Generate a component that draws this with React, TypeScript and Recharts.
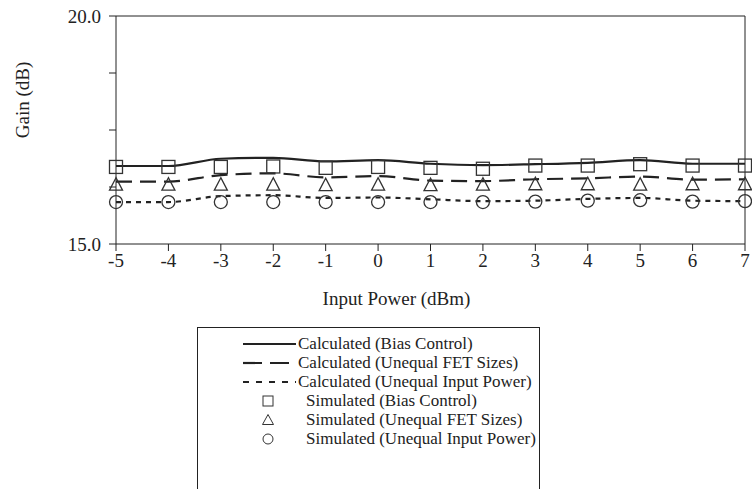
import { LineChart, Line, XAxis, YAxis, ReferenceLine, Legend } from "recharts"

// x values (input power, dBm)
const inputPower = [-5, -4, -3, -2, -1, 0, 1, 2, 3, 4, 5, 6, 7]

// calculated curves
const calcBias = [16.71, 16.71, 16.87, 16.89, 16.81, 16.84, 16.76, 16.73, 16.75, 16.78, 16.84, 16.76, 16.76]
const calcFet = [16.37, 16.37, 16.51, 16.55, 16.46, 16.49, 16.39, 16.38, 16.42, 16.44, 16.48, 16.41, 16.42]
const calcInput = [15.92, 15.92, 16.05, 16.07, 16.01, 16.02, 15.98, 15.94, 15.95, 15.99, 16.01, 15.95, 15.94]

// simulated points
const simBias = [16.69, 16.69, 16.69, 16.7, 16.67, 16.69, 16.67, 16.65, 16.72, 16.72, 16.75, 16.72, 16.72]
const simFet = [16.3, 16.3, 16.3, 16.3, 16.29, 16.3, 16.29, 16.3, 16.31, 16.31, 16.3, 16.31, 16.31]
const simInput = [15.92, 15.92, 15.92, 15.92, 15.92, 15.92, 15.92, 15.92, 15.93, 15.95, 15.96, 15.93, 15.94]

const yTicks = [15, 16.25, 17.5, 18.75, 20]
const yLabelled = [15, 20]

const legendNames = [
  "Calculated (Bias Control)",
  "Calculated (Unequal FET Sizes)",
  "Calculated (Unequal Input Power)",
  "Simulated (Bias Control)",
  "Simulated (Unequal FET Sizes)",
  "Simulated (Unequal Input Power)",
]

const data = inputPower.map((x, i) => ({
  x,
  calcBias: calcBias[i],
  calcFet: calcFet[i],
  calcInput: calcInput[i],
  simBias: simBias[i],
  simFet: simFet[i],
  simInput: simInput[i],
}))

const FONT = "'Liberation Serif', 'Times New Roman', serif"
const INK = "#222"
const MARK = "#333"

const SquareDot = (p: any) =>
  p.cx == null ? <g key={p.index} /> : (
    <rect key={p.index} x={p.cx - 6.5} y={p.cy - 6.5} width={13} height={13} fill="none" stroke={MARK} strokeWidth={1.3} />
  )

const TriangleDot = (p: any) =>
  p.cx == null ? <g key={p.index} /> : (
    <polygon
      key={p.index}
      points={`${p.cx},${p.cy - 7} ${p.cx - 6.5},${p.cy + 5.5} ${p.cx + 6.5},${p.cy + 5.5}`}
      fill="none"
      stroke={MARK}
      strokeWidth={1.3}
    />
  )

const CircleDot = (p: any) =>
  p.cx == null ? <g key={p.index} /> : (
    <circle key={p.index} cx={p.cx} cy={p.cy} r={6.5} fill="none" stroke={MARK} strokeWidth={1.3} />
  )

function LegendIcon({ i }: { i: number }) {
  const dashes = ["", "19 8", "6 7"]
  if (i < 3) {
    return (
      <svg width={53} height={10} style={{ display: "block" }}>
        <line x1={0} y1={5} x2={53} y2={5} stroke={INK} strokeWidth={2.2} strokeDasharray={dashes[i]} />
      </svg>
    )
  }
  return (
    <svg width={53} height={14} style={{ display: "block" }}>
      {i === 3 && <rect x={20} y={2} width={10} height={10} fill="none" stroke={MARK} strokeWidth={1} />}
      {i === 4 && <polygon points="25,1.5 19.5,11.5 30.5,11.5" fill="none" stroke={MARK} strokeWidth={1} />}
      {i === 5 && <circle cx={25} cy={7} r={5} fill="none" stroke={MARK} strokeWidth={1} />}
    </svg>
  )
}

function LegendBox() {
  return (
    <div
      style={{
        border: `1.5px solid ${INK}`,
        borderBottom: "none",
        width: 343,
        height: 175,
        boxSizing: "border-box",
        paddingTop: 6,
        fontFamily: FONT,
        fontSize: 17,
        color: INK,
      }}
    >
      {legendNames.map((name, i) => (
        <div key={name} style={{ display: "flex", alignItems: "center", height: 19, marginLeft: 45 }}>
          <LegendIcon i={i} />
          <span style={{ marginLeft: i < 3 ? 2 : 10, whiteSpace: "nowrap" }}>{name}</span>
        </div>
      ))}
    </div>
  )
}

export default function App() {
  return (
    <div style={{ position: "absolute", left: 0, top: 0, width: 752, height: 489, overflow: "hidden", background: "#fff" }}>
      <LineChart width={752} height={489} data={data} margin={{ top: 16, right: 7, bottom: 175, left: 0 }}>
        <XAxis
          dataKey="x"
          type="number"
          domain={[-5, 7]}
          ticks={inputPower}
          interval={0}
          tickSize={7}
          tickMargin={3}
          height={70}
          stroke={INK}
          tick={{ fill: INK, fontFamily: FONT, fontSize: 19 }}
          label={({ viewBox }: any) => (
            <text
              x={viewBox.x + viewBox.width / 2 - 34}
              y={viewBox.y + 54}
              textAnchor="middle"
              dominantBaseline="central"
              fill={INK}
              fontFamily={FONT}
              fontSize={19}
            >
              Input Power (dBm)
            </text>
          )}
        />
        <YAxis
          type="number"
          domain={[15, 20]}
          ticks={yTicks}
          interval={0}
          width={116}
          tickSize={7}
          tickMargin={8}
          stroke={INK}
          tick={{ fill: INK, fontFamily: FONT, fontSize: 19 }}
          tickFormatter={(v: number) => (yLabelled.includes(v) ? v.toFixed(1) : "")}
          label={({ viewBox }: any) => (
            <text
              transform={`translate(${viewBox.x + 22},${viewBox.y + viewBox.height / 2 - 30}) rotate(-90)`}
              textAnchor="middle"
              dominantBaseline="central"
              fill={INK}
              fontFamily={FONT}
              fontSize={19}
            >
              Gain (dB)
            </text>
          )}
        />
        <ReferenceLine y={20} stroke={INK} strokeWidth={1} />
        <ReferenceLine x={7} stroke={INK} strokeWidth={1} />
        <Line type="monotone" dataKey="calcBias" stroke={INK} strokeWidth={2.2} dot={false} isAnimationActive={false} />
        <Line type="monotone" dataKey="calcFet" stroke={INK} strokeWidth={2.2} strokeDasharray="16 8" dot={false} isAnimationActive={false} />
        <Line type="monotone" dataKey="calcInput" stroke={INK} strokeWidth={2.2} strokeDasharray="5 5" dot={false} isAnimationActive={false} />
        <Line dataKey="simBias" stroke="none" dot={SquareDot} isAnimationActive={false} />
        <Line dataKey="simFet" stroke="none" dot={TriangleDot} isAnimationActive={false} />
        <Line dataKey="simInput" stroke="none" dot={CircleDot} isAnimationActive={false} />
        <Legend
          layout="horizontal"
          verticalAlign="middle"
          align="center"
          content={() => <LegendBox />}
          wrapperStyle={{ position: "absolute", left: 197, top: 327, width: 343 }}
        />
      </LineChart>
    </div>
  )
}
